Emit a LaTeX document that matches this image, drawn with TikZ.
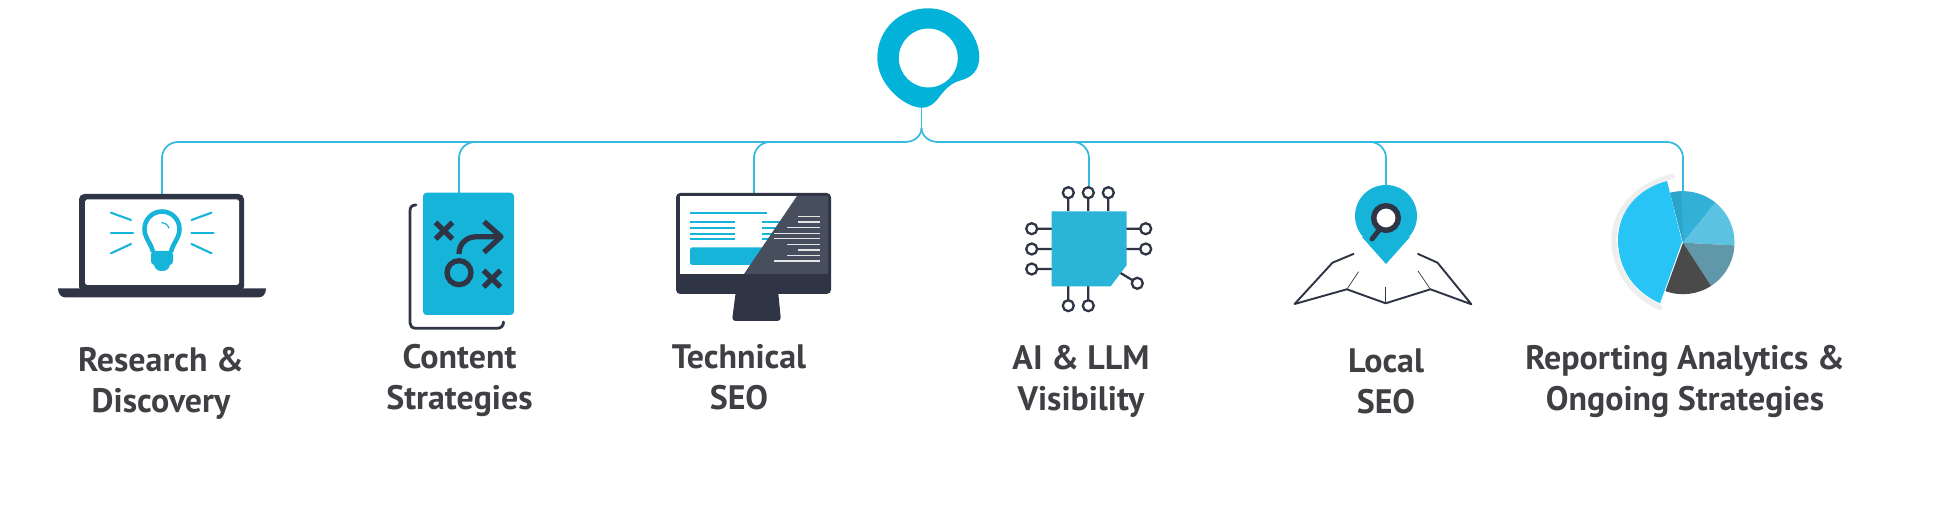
\documentclass[tikz,border=0pt]{standalone}
\usepackage{fontspec}
\setmainfont{PT Sans}
\usetikzlibrary{backgrounds}
\pgfdeclarelayer{edgelayer}
\pgfdeclarelayer{nodelayer}
\pgfsetlayers{edgelayer,nodelayer,main}
\definecolor{wire}{HTML}{36BBDF}
\definecolor{brand}{HTML}{03B2D9}
\definecolor{ink}{HTML}{2F3545}
\definecolor{slate}{HTML}{474F5F}
\definecolor{icon}{HTML}{16B4D8}
\definecolor{chip}{HTML}{29B4D8}
\definecolor{words}{HTML}{3F4044}
\definecolor{piebig}{HTML}{29C4F6}
\definecolor{pieshade}{HTML}{2CA3C9}
\definecolor{piemid}{HTML}{33B0D8}
\definecolor{pielight}{HTML}{5BC2E2}
\definecolor{pieteal}{HTML}{6098AA}
\definecolor{piedark}{HTML}{4A4A4A}
\definecolor{piehalo}{HTML}{EEEEEE}
\tikzset{font=\footnotesize}
\tikzstyle{none}=[inner sep=0pt,minimum size=0pt]
\tikzstyle{caption}=[align=center,text=words,inner sep=0pt,font=\fontsize{9.65pt}{11.66pt}\selectfont\bfseries]
\tikzstyle{wired}=[draw=wire,line width=0.5pt]
\tikzstyle{inkline}=[draw=ink,line width=1.5pt,line join=round]
\tikzstyle{ray}=[draw=icon,line width=0.6pt,line cap=round]
\tikzstyle{chippin}=[draw=ink,line width=0.65pt,fill=white]
\tikzstyle{screenline}=[draw=icon,line width=0.65pt]
\tikzstyle{codeline}=[draw=white!85!slate,line width=0.3pt]
\tikzstyle{mapline}=[draw=ink,line width=0.55pt,line join=round]
\tikzstyle{foldline}=[draw=ink,line width=0.2pt]

\begin{document}
\begin{tikzpicture}[x=0.01cm,y=-0.01cm]
	\useasboundingbox (0,0) rectangle (1960,528);
	\begin{pgfonlayer}{nodelayer}
		\node [style=none] (0) at (921.5, 107) {};
		\node [style=none] (1) at (921.5, 128) {};
		\node [style=none] (2) at (905, 142) {};
		\node [style=none] (3) at (938, 142) {};
		\node [style=none] (4) at (178, 142) {};
		\node [style=none] (5) at (162, 158) {};
		\node [style=none] (6) at (162, 194) {};
		\node [style=none] (7) at (475, 142) {};
		\node [style=none] (8) at (459, 158) {};
		\node [style=none] (9) at (459, 193) {};
		\node [style=none] (10) at (770, 142) {};
		\node [style=none] (11) at (754, 158) {};
		\node [style=none] (12) at (754, 193) {};
		\node [style=none] (13) at (1073, 142) {};
		\node [style=none] (14) at (1089, 158) {};
		\node [style=none] (15) at (1089, 187) {};
		\node [style=none] (16) at (1370, 142) {};
		\node [style=none] (17) at (1386, 158) {};
		\node [style=none] (18) at (1386, 186) {};
		\node [style=none] (19) at (1667, 142) {};
		\node [style=none] (20) at (1683, 158) {};
		\node [style=none] (21) at (1683, 192) {};
		\node [style=caption] (22) at (161, 383.5) {Research \&\\Discovery};
		\node [style=caption] (23) at (459.5, 380.5) {Content\\Strategies};
		\node [style=caption] (24) at (739, 377) {Technical\\SEO};
		\node [style=caption] (25) at (1081, 381) {AI \& LLM\\Visibility};
		\node [style=caption] (26) at (1386, 381) {Local\\SEO};
		\node [style=caption] (27) at (1685, 381.5) {Reporting Analytics \&\\Ongoing Strategies};
	\end{pgfonlayer}
	\begin{pgfonlayer}{edgelayer}
		\draw[style=wired] (0.center) to (1.center);
		\draw[style=wired] [in=0, out=-90] (1.center) to (2.center);
		\draw[style=wired] [in=180, out=-90] (1.center) to (3.center);
		\draw[style=wired] (2.center) to (4.center);
		\draw[style=wired] [in=90, out=180] (4.center) to (5.center);
		\draw[style=wired] (5.center) to (6.center);
		\draw[style=wired] [in=90, out=180] (7.center) to (8.center);
		\draw[style=wired] (8.center) to (9.center);
		\draw[style=wired] [in=90, out=180] (10.center) to (11.center);
		\draw[style=wired] (11.center) to (12.center);
		\draw[style=wired] (3.center) to (19.center);
		\draw[style=wired] [in=90, out=0] (13.center) to (14.center);
		\draw[style=wired] (14.center) to (15.center);
		\draw[style=wired] [in=90, out=0] (16.center) to (17.center);
		\draw[style=wired] (17.center) to (18.center);
		\draw[style=wired] [in=90, out=0] (19.center) to (20.center);
		\draw[style=wired] (20.center) to (21.center);
	\end{pgfonlayer}
	% logo
	\fill[brand,even odd rule] (877.3,58) .. controls (877.3,29) and (900,8.3) .. (928.3,8.3) .. controls (958,8.3) and (979.3,35) .. (979.3,57) .. controls (979.3,70) and (972,77) .. (962,80) .. controls (950,83) and (945,90) .. (940,96) .. controls (935,103) and (930,107.7) .. (921.7,107.7) .. controls (905,107.7) and (877.3,85) .. (877.3,58) -- cycle (928.3,58) circle (29.5);
	% laptop
	\fill[ink,rounded corners=1.5pt] (79,194) rectangle (244,292);
	\fill[white,rounded corners=0.5pt] (85,199.5) rectangle (239,285);
	\fill[ink] (58,288.5) -- (266,288.5) .. controls (266,294) and (263,297.5) .. (258,297.5) -- (66,297.5) .. controls (61,297.5) and (58,294) .. (58,288.5) -- cycle;
	\draw[style=ray] (111,212.7) -- (131,220);
	\draw[style=ray] (111,232.7) -- (133,232.7);
	\draw[style=ray] (111,253.3) -- (131,244);
	\draw[style=ray] (211.5,212.7) -- (191.5,220);
	\draw[style=ray] (213.5,232.7) -- (191.5,232.7);
	\draw[style=ray] (211.5,253.3) -- (191.5,244);
	\draw[icon,line width=1.3pt] (153,252) .. controls (151,243) and (144.5,238) .. (144.5,229) arc (180:360:17.5) .. controls (179.5,238) and (173,243) .. (171,252);
	\fill[icon,rounded corners=1pt] (151,251) rectangle (173,265);
	\fill[icon,rounded corners=2pt] (154,258) rectangle (170,271);
	\draw[icon,line width=0.35pt] (161.4,222.7) .. controls (165,222.7) and (168,225) .. (169,228.3);
	% playbook
	\draw[style=inkline,line width=0.8pt,line cap=round] (416,205) .. controls (412,205) and (410,207) .. (410,211) -- (410,323) .. controls (410,326) and (412,328.3) .. (416,328.3) -- (497,328.3) .. controls (501,328.3) and (503.5,326) .. (503.5,322);
	\fill[icon,rounded corners=1pt] (423,192.7) rectangle (514,315);
	\draw[style=inkline] (435.5,222.5) -- (452.5,239);
	\draw[style=inkline] (452.5,222.5) -- (435.5,239);
	\draw[style=inkline] (483.5,270.5) -- (500.5,287);
	\draw[style=inkline] (500.5,270.5) -- (483.5,287);
	\draw[ink,line width=1.5pt] (459,272.7) circle (12);
	\draw[style=inkline] (459,254) .. controls (459,243) and (467,236.7) .. (477,236.7) -- (499,236.7);
	\draw[style=inkline] (484,221.7) -- (501,236.7) -- (484,252.3);
	% monitor
	\fill[ink,rounded corners=1.2pt] (676,193) rectangle (831,294);
	\fill[ink,rounded corners=1pt] (736,290) -- (778,290) -- (781,321) -- (732,321) -- cycle;
	\fill[white] (680,196) rectangle (828,274);
	\draw[style=screenline] (690,213) -- (767,213);
	\draw[style=screenline,line width=0.5pt] (690,222.3) -- (735,222.3);
	\draw[style=screenline,line width=0.5pt] (690,228) -- (735,228);
	\draw[style=screenline,line width=0.5pt] (690,233.7) -- (735,233.7);
	\draw[style=screenline,line width=0.5pt] (690,239.3) -- (735,239.3);
	\draw[style=screenline,line width=0.5pt] (762,222.3) -- (790,222.3);
	\draw[style=screenline,line width=0.5pt] (762,228) -- (790,228);
	\draw[style=screenline,line width=0.5pt] (762,233.7) -- (790,233.7);
	\draw[style=screenline,line width=0.5pt] (762,239.3) -- (790,239.3);
	\fill[icon,rounded corners=0.5pt] (690,247.3) rectangle (790,265);
	\fill[slate] (797,196) -- (828,196) -- (828,274) -- (744,274) -- cycle;
	\draw[style=codeline] (798,216.7) -- (820,216.7);
	\draw[style=codeline] (798,222) -- (820,222);
	\draw[style=codeline] (787,227.7) -- (820,227.7);
	\draw[style=codeline] (774,233.3) -- (820,233.3);
	\draw[style=codeline] (774,238.7) -- (820,238.7);
	\draw[style=codeline] (787,244.3) -- (820,244.3);
	\draw[style=codeline] (798,250) -- (820,250);
	\draw[style=codeline] (787,255.7) -- (820,255.7);
	\draw[style=codeline] (774,261) -- (820,261);
	% chip
	\draw[style=chippin] (1068.3,211) -- (1068.3,198) (1068.3,192.7) circle (5.5);
	\draw[style=chippin] (1088.3,211) -- (1088.3,198) (1088.3,192.7) circle (5.5);
	\draw[style=chippin] (1108.3,211) -- (1108.3,198) (1108.3,192.7) circle (5.5);
	\draw[style=chippin] (1052,228.7) -- (1037,228.7) (1031.7,228.7) circle (5.5);
	\draw[style=chippin] (1052,249) -- (1037,249) (1031.7,249) circle (5.5);
	\draw[style=chippin] (1052,269) -- (1037,269) (1031.7,269) circle (5.5);
	\draw[style=chippin] (1126,228.7) -- (1140.5,228.7) (1145.7,228.7) circle (5.5);
	\draw[style=chippin] (1126,249) -- (1140.5,249) (1145.7,249) circle (5.5);
	\draw[style=chippin] (1068.3,286) -- (1068.3,300.5) (1068.3,305.7) circle (5.5);
	\draw[style=chippin] (1088.3,286) -- (1088.3,300.5) (1088.3,305.7) circle (5.5);
	\draw[style=chippin] (1120,272.7) -- (1133,280.5) (1137.3,283.3) circle (5.5);
	\fill[chip] (1051.7,211.3) -- (1126.7,211.3) -- (1126.7,265) -- (1110.7,286.3) -- (1051.7,286.3) -- cycle;
	% map
	\draw[style=mapline] (1354,253.7) -- (1332.5,262.7) -- (1294.6,304) -- (1346.8,289.3) -- (1385.7,303.3) -- (1430.4,289.3) -- (1471.4,304.3) -- (1437.5,262.7) -- (1417.5,253.7);
	\draw[style=foldline] (1346.8,289.3) -- (1358.6,271.7);
	\draw[style=foldline] (1385.7,303.3) -- (1385.7,286.7);
	\draw[style=foldline] (1430.4,289.3) -- (1418,271);
	\fill[icon] (1386,216) circle (31);
	\fill[icon] (1362,237) -- (1386,264) -- (1410,237) -- cycle;
	\draw[ink,line width=1.55pt,fill=white] (1386,218) circle (12.3);
	\draw[ink,line width=1.4pt,line cap=round] (1380,229) -- (1372,239);
	% pie
	\fill[piemid] (1683,242.7) -- ++(-51:51.5) arc (-51:-104.5:51.5) -- cycle;
	\fill[pieshade] (1683,242.7) -- ++(-104.5:51.5) arc (-104.5:-92:51.5) -- cycle;
	\fill[pielight] (1683,242.7) -- ++(-51:51.5) arc (-51:3:51.5) -- cycle;
	\fill[pieteal] (1683,242.7) -- ++(3:51.5) arc (3:57:51.5) -- cycle;
	\fill[piedark] (1683,242.7) -- ++(57:51.5) arc (57:110:51.5) -- cycle;
	\draw[piehalo,line width=1.5pt,line cap=round] (1672,176.5) .. controls (1635,186) and (1614,212) .. (1614,240) .. controls (1614,270) and (1632,295) .. (1660,307.5);
	\fill[piebig] (1667,181) .. controls (1637,189) and (1618,212) .. (1618,240) .. controls (1618,270) and (1635,292) .. (1660,303.3) -- (1682,241.7) -- cycle;
\end{tikzpicture}
\end{document}
